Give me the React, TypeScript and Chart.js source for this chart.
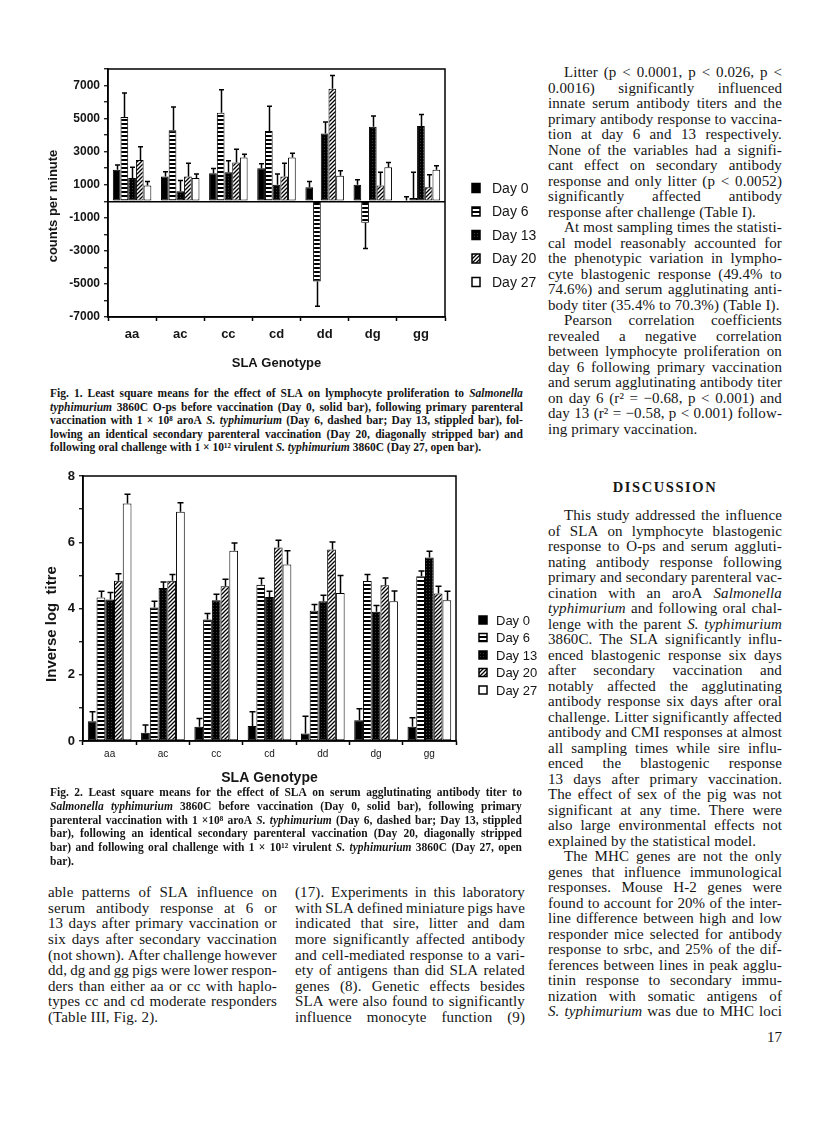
import React, { useEffect, useRef } from "react";
import { Chart, registerables } from "chart.js";
Chart.register(...registerables);

// ---------- data ----------
const genotypes = ["aa", "ac", "cc", "cd", "dd", "dg", "gg"];
const dayLabels = ["Day 0", "Day 6", "Day 13", "Day 20", "Day 27"];

// Fig. 1: lymphocyte proliferation, counts per minute
const cpmDay0 = [1900, 1500, 1700, 2000, 850, 1000, 50];
const cpmDay6 = [5100, 4300, 5350, 4250, -4850, -1300, 200];
const cpmDay13 = [1400, 600, 1750, 1000, 4100, 4500, 4550];
const cpmDay20 = [2500, 1500, 2350, 1500, 6800, 950, 850];
const cpmDay27 = [950, 1400, 2650, 2650, 1550, 2050, 1900];
const cpmErr0 = [300, 280, 280, 270, 350, 300, 220];
const cpmErr6 = [1450, 1400, 1400, 1500, 1500, 1550, 1550];
const cpmErr13 = [650, 650, 700, 650, 700, 650, 700];
const cpmErr20 = [800, 800, 800, 800, 800, 800, 750];
const cpmErr27 = [250, 250, 200, 250, 300, 300, 250];
const cpmTickLabels = [-7000, -5000, -3000, -1000, 1000, 3000, 5000, 7000];

// Fig. 2: serum agglutinating antibody, inverse log titre
const titreDay0 = [0.6, 0.25, 0.43, 0.45, 0.23, 0.63, 0.43];
const titreDay6 = [4.33, 4.03, 3.67, 4.72, 3.93, 4.83, 4.97];
const titreDay13 = [4.27, 4.62, 4.25, 4.35, 4.22, 3.9, 5.54];
const titreDay20 = [4.84, 4.84, 4.67, 5.84, 5.78, 4.7, 4.45];
const titreDay27 = [7.17, 6.92, 5.74, 5.33, 4.47, 4.22, 4.25];
const titreErr0 = [0.28, 0.23, 0.25, 0.43, 0.52, 0.34, 0.27];
const titreErr6 = [0.19, 0.19, 0.18, 0.19, 0.19, 0.2, 0.16];
const titreErr13 = [0.21, 0.18, 0.18, 0.17, 0.18, 0.19, 0.19];
const titreErr20 = [0.21, 0.19, 0.21, 0.22, 0.23, 0.22, 0.22];
const titreErr27 = [0.28, 0.27, 0.24, 0.41, 0.53, 0.31, 0.27];
const titreTickLabels = [0, 2, 4, 6, 8];

// ---------- text ----------
const fig1Caption = [
  "Fig. 1. Least square means for the effect of SLA on lymphocyte proliferation to _Salmonella_",
  "_typhimurium_ 3860C O-ps before vaccination (Day 0, solid bar), following primary parenteral",
  "vaccination with 1 × 10⁸ aroA _S. typhimurium_ (Day 6, dashed bar; Day 13, stippled bar), fol-",
  "lowing an identical secondary parenteral vaccination (Day 20, diagonally stripped bar) and",
  "following oral challenge with 1 × 10¹² virulent _S. typhimurium_ 3860C (Day 27, open bar).|",
];
const fig2Caption = [
  "Fig. 2. Least square means for the effect of SLA on serum agglutinating antibody titer to",
  "_Salmonella typhimurium_ 3860C before vaccination (Day 0, solid bar), following primary",
  "parenteral vaccination with 1 ×10⁸ aroA _S. typhimurium_ (Day 6, dashed bar; Day 13, stippled",
  "bar), following an identical secondary parenteral vaccination (Day 20, diagonally stripped",
  "bar) and following oral challenge with 1 × 10¹² virulent _S. typhimurium_ 3860C (Day 27, open",
  "bar).|",
];
const rightTop = [
  ">Litter (p < 0.0001, p < 0.026, p <",
  "0.0016) significantly influenced",
  "innate serum antibody titers and the",
  "primary antibody response to vaccina-",
  "tion at day 6 and 13 respectively.",
  "None of the variables had a signifi-",
  "cant effect on secondary antibody",
  "response and only litter (p < 0.0052)",
  "significantly affected antibody",
  "response after challenge (Table I).|",
  ">At most sampling times the statisti-",
  "cal model reasonably accounted for",
  "the phenotypic variation in lympho-",
  "cyte blastogenic response (49.4% to",
  "74.6%) and serum agglutinating anti-",
  "body titer (35.4% to 70.3%) (Table I).|",
  ">Pearson correlation coefficients",
  "revealed a negative correlation",
  "between lymphocyte proliferation on",
  "day 6 following primary vaccination",
  "and serum agglutinating antibody titer",
  "on day 6 (r² = −0.68, p < 0.001) and",
  "day 13 (r² = −0.58, p < 0.001) follow-",
  "ing primary vaccination.|",
];
const rightBottom = [
  ">This study addressed the influence",
  "of SLA on lymphocyte blastogenic",
  "response to O-ps and serum aggluti-",
  "nating antibody response following",
  "primary and secondary parenteral vac-",
  "cination with an aroA _Salmonella_",
  "_typhimurium_ and following oral chal-",
  "lenge with the parent _S. typhimurium_",
  "3860C. The SLA significantly influ-",
  "enced blastogenic response six days",
  "after secondary vaccination and",
  "notably affected the agglutinating",
  "antibody response six days after oral",
  "challenge. Litter significantly affected",
  "antibody and CMI responses at almost",
  "all sampling times while sire influ-",
  "enced the blastogenic response",
  "13 days after primary vaccination.",
  "The effect of sex of the pig was not",
  "significant at any time. There were",
  "also large environmental effects not",
  "explained by the statistical model.|",
  ">The MHC genes are not the only",
  "genes that influence immunological",
  "responses. Mouse H-2 genes were",
  "found to account for 20% of the inter-",
  "line difference between high and low",
  "responder mice selected for antibody",
  "response to srbc, and 25% of the dif-",
  "ferences between lines in peak agglu-",
  "tinin response to secondary immu-",
  "nization with somatic antigens of",
  "_S. typhimurium_ was due to MHC loci",
];
const leftBottom = [
  "able patterns of SLA influence on",
  "serum antibody response at 6 or",
  "13 days after primary vaccination or",
  "six days after secondary vaccination",
  "(not shown). After challenge however",
  "dd, dg and gg pigs were lower respon-",
  "ders than either aa or cc with haplo-",
  "types cc and cd moderate responders",
  "(Table III, Fig. 2).|",
];
const midBottom = [
  "(17). Experiments in this laboratory",
  "with SLA defined miniature pigs have",
  "indicated that sire, litter and dam",
  "more significantly affected antibody",
  "and cell-mediated response to a vari-",
  "ety of antigens than did SLA related",
  "genes (8). Genetic effects besides",
  "SLA were also found to significantly",
  "influence monocyte function (9)",
];

// ---------- patterns ----------
function makeFills(): (string | CanvasPattern)[] {
  const mk = (w: number, h: number, draw: (c: CanvasRenderingContext2D) => void) => {
    const cv = document.createElement("canvas");
    cv.width = w;
    cv.height = h;
    const c = cv.getContext("2d")!;
    draw(c);
    return c.createPattern(cv, "repeat")!;
  };
  const stripes = mk(4, 4, (c) => {
    c.fillStyle = "#fff";
    c.fillRect(0, 0, 4, 4);
    c.fillStyle = "#000";
    c.fillRect(0, 0, 4, 2);
  });
  const stipple = mk(3, 3, (c) => {
    c.fillStyle = "#000";
    c.fillRect(0, 0, 3, 3);
    c.fillStyle = "#3a3a3a";
    c.fillRect(1, 1, 1, 1);
  });
  const diag = mk(4, 4, (c) => {
    c.fillStyle = "#fff";
    c.fillRect(0, 0, 4, 4);
    c.strokeStyle = "#000";
    c.lineWidth = 1.3;
    c.beginPath();
    c.moveTo(-1, 5);
    c.lineTo(5, -1);
    c.moveTo(-1, 1);
    c.lineTo(1, -1);
    c.moveTo(3, 5);
    c.lineTo(5, 3);
    c.stroke();
  });
  return ["#000", stripes, stipple, diag, "#fff"];
}

type Cfg = {
  values: number[][];
  errors: number[][];
  min: number;
  max: number;
  step: number;
  tickLabels: number[];
  zeroLine: boolean;
  yWidth: number;
  xHeight: number;
  padTop: number;
  padRight: number;
  yTickFont: number;
  xTickFont: number;
  xTickBold: boolean;
  xTickPad: number;
  xTitleFont: number;
  xTitlePadBottom: number;
  yTitle: string;
  yTitleFont: number;
  yTitleX: number;
  yTitleY: number;
  legendBoxX: number;
  legendTextX: number;
  legendY0: number;
  legendDy: number;
  legendFont: number;
  legendBox: [number, number];
  catPct: number;
  cap: number;
};

const INK = "#151515";
const SANS = '"Liberation Sans", Arial, sans-serif';

function makePlugin(cfg: Cfg) {
  return {
    id: "paper",
    afterDatasetsDraw(chart: any) {
      const ctx = chart.ctx;
      const ys = chart.scales.y;
      ctx.save();
      ctx.strokeStyle = "#000";
      ctx.lineWidth = 1.5;
      cfg.errors.forEach((errs, di) => {
        const meta = chart.getDatasetMeta(di);
        meta.data.forEach((bar: any, j: number) => {
          const v = cfg.values[di][j];
          const end = v + (v < 0 ? -errs[j] : errs[j]);
          const y1 = ys.getPixelForValue(end);
          const x = Math.round(bar.x) + 0.5;
          ctx.beginPath();
          ctx.moveTo(x, bar.y);
          ctx.lineTo(x, y1);
          ctx.moveTo(x - cfg.cap, y1);
          ctx.lineTo(x + cfg.cap, y1);
          ctx.stroke();
        });
      });
      ctx.restore();
    },
    afterDraw(chart: any) {
      const ctx = chart.ctx;
      const a = chart.chartArea;
      ctx.save();
      ctx.strokeStyle = "#000";
      ctx.lineWidth = 1.5;
      ctx.strokeRect(a.left, a.top, a.right - a.left, a.bottom - a.top);
      ctx.fillStyle = INK;
      ctx.font = `bold ${cfg.yTitleFont}px ${SANS}`;
      ctx.textAlign = "center";
      ctx.textBaseline = "middle";
      ctx.translate(cfg.yTitleX, cfg.yTitleY);
      ctx.rotate(-Math.PI / 2);
      ctx.fillText(cfg.yTitle, 0, 0);
      ctx.setTransform(1, 0, 0, 1, 0, 0);
      ctx.textAlign = "left";
      ctx.font = `${cfg.legendFont}px ${SANS}`;
      chart.data.datasets.forEach((ds: any, k: number) => {
        const cy = cfg.legendY0 + k * cfg.legendDy;
        const [bw, bh] = cfg.legendBox;
        ctx.fillStyle = ds.backgroundColor;
        ctx.fillRect(cfg.legendBoxX, cy - bh / 2, bw, bh);
        ctx.lineWidth = 1.5;
        ctx.strokeStyle = "#000";
        ctx.strokeRect(cfg.legendBoxX, cy - bh / 2, bw, bh);
        ctx.fillStyle = INK;
        ctx.fillText(ds.label, cfg.legendTextX, cy + 1);
      });
      ctx.restore();
    },
  };
}

function BarChart({ cfg, left, top, width, height }: { cfg: Cfg; left: number; top: number; width: number; height: number }) {
  const ref = useRef<HTMLCanvasElement>(null);
  useEffect(() => {
    const fills = makeFills();
    const chart = new Chart(ref.current!, {
      type: "bar",
      data: {
        labels: genotypes,
        datasets: cfg.values.map((vals, i) => ({
          label: dayLabels[i],
          data: vals,
          backgroundColor: fills[i] as any,
          borderColor: "#000",
          borderWidth: 1,
          borderSkipped: false,
          barPercentage: 1,
          categoryPercentage: cfg.catPct,
        })),
      },
      options: {
        responsive: false,
        animation: false,
        devicePixelRatio: 1,
        layout: { padding: { top: cfg.padTop, right: cfg.padRight, left: 0, bottom: 0 } },
        plugins: { legend: { display: false }, tooltip: { enabled: false }, title: { display: false } },
        scales: {
          x: {
            grid: { display: true, drawOnChartArea: false, drawTicks: true, tickLength: 4, tickColor: "#000", tickWidth: 1.5, offset: true },
            border: { display: true, color: "#000", width: 1.5 },
            ticks: {
              color: INK,
              padding: cfg.xTickPad,
              font: { family: SANS, size: cfg.xTickFont, weight: cfg.xTickBold ? "bold" : "normal" },
            },
            title: {
              display: true,
              text: "SLA Genotype",
              color: INK,
              font: { family: SANS, size: cfg.xTitleFont, weight: "bold" },
              padding: { top: 0, bottom: cfg.xTitlePadBottom },
            },
            afterFit: (s: any) => {
              s.height = cfg.xHeight;
            },
          },
          y: {
            min: cfg.min,
            max: cfg.max,
            grid: {
              drawOnChartArea: cfg.zeroLine,
              color: (c: any) => (c.tick && c.tick.value === 0 ? "#000" : "rgba(0,0,0,0)"),
              lineWidth: 1.5,
              tickLength: 4,
              tickColor: "#000",
              tickWidth: 1.2,
            },
            border: { display: true, color: "#000", width: 1.5 },
            ticks: {
              stepSize: cfg.step,
              autoSkip: false,
              color: INK,
              padding: 4,
              font: { family: SANS, size: cfg.yTickFont, weight: "bold" },
              callback: (v: any) => (cfg.tickLabels.includes(Number(v)) ? String(v) : ""),
            },
            afterFit: (s: any) => {
              s.width = cfg.yWidth;
            },
          },
        },
      },
      plugins: [makePlugin(cfg) as any],
    });
    return () => chart.destroy();
  }, []);
  return <canvas ref={ref} width={width} height={height} style={{ position: "absolute", left, top, width, height }} />;
}

const cfg1: Cfg = {
  values: [cpmDay0, cpmDay6, cpmDay13, cpmDay20, cpmDay27],
  errors: [cpmErr0, cpmErr6, cpmErr13, cpmErr20, cpmErr27],
  min: -7000,
  max: 8000,
  step: 1000,
  tickLabels: cpmTickLabels,
  zeroLine: true,
  yWidth: 88,
  xHeight: 68,
  padTop: 14,
  padRight: 95,
  yTickFont: 12,
  xTickFont: 13,
  xTickBold: true,
  xTickPad: 6,
  xTitleFont: 13,
  xTitlePadBottom: 14,
  yTitle: "counts per minute",
  yTitleFont: 13,
  yTitleX: 33,
  yTitleY: 151,
  legendBoxX: 452,
  legendTextX: 472,
  legendY0: 133,
  legendDy: 23.5,
  legendFont: 14,
  legendBox: [8, 9],
  catPct: 0.8,
  cap: 2.5,
};

const cfg2: Cfg = {
  values: [titreDay0, titreDay6, titreDay13, titreDay20, titreDay27],
  errors: [titreErr0, titreErr6, titreErr13, titreErr20, titreErr27],
  min: 0,
  max: 8,
  step: 1,
  tickLabels: titreTickLabels,
  zeroLine: false,
  yWidth: 63,
  xHeight: 49,
  padTop: 16,
  padRight: 84,
  yTickFont: 13,
  xTickFont: 10,
  xTickBold: false,
  xTickPad: 3,
  xTitleFont: 14,
  xTitlePadBottom: 3,
  yTitle: "Inverse log  titre",
  yTitleFont: 15,
  yTitleX: 32,
  yTitleY: 164,
  legendBoxX: 459,
  legendTextX: 476,
  legendY0: 160,
  legendDy: 17.5,
  legendFont: 13,
  legendBox: [8, 8],
  catPct: 0.82,
  cap: 3,
};

type Seg = { t: string; it: boolean };
function parseWords(s: string): Seg[][] {
  const words: Seg[][] = [];
  let cur: Seg[] = [];
  s.split("_").forEach((part, k) => {
    const it = k % 2 === 1;
    const pieces = part.split(" ");
    pieces.forEach((p, pi) => {
      if (pi > 0) {
        if (cur.length) words.push(cur);
        cur = [];
      }
      if (p) cur.push({ t: p, it });
    });
  });
  if (cur.length) words.push(cur);
  return words;
}

function Lines({ x, y, w, lh, size, weight = 400, lines, indent = 16, spacing = 0 }: any) {
  return (
    <>
      {lines.map((raw: string, i: number) => {
        let s = raw;
        const ind = s.startsWith(">");
        if (ind) s = s.slice(1);
        const last = s.endsWith("|");
        if (last) s = s.slice(0, -1);
        const words = parseWords(s);
        const renderWord = (wd: Seg[], k: number) => (
          <span key={k}>
            {wd.map((sg, m) => (sg.it ? <i key={m}>{sg.t}</i> : <span key={m}>{sg.t}</span>))}
          </span>
        );
        return (
          <div
            key={i}
            style={{
              position: "absolute",
              left: x + (ind ? indent : 0),
              top: y - lh / 2 + i * lh,
              width: w - (ind ? indent : 0),
              height: lh,
              lineHeight: lh + "px",
              fontSize: size,
              fontWeight: weight,
              letterSpacing: spacing,
              whiteSpace: "nowrap",
              display: last ? "block" : "flex",
              justifyContent: "space-between",
            } as any}
          >
            {last
              ? words.map((wd, k) => (
                  <React.Fragment key={k}>
                    {k > 0 ? " " : ""}
                    {renderWord(wd, k)}
                  </React.Fragment>
                ))
              : words.map(renderWord)}
          </div>
        );
      })}
    </>
  );
}

export default function App() {
  return (
    <div
      style={{
        position: "absolute",
        left: 0,
        top: 0,
        width: 816,
        height: 1121,
        overflow: "hidden",
        background: "#fff",
        color: INK,
        fontFamily: '"Liberation Serif", "Times New Roman", serif',
      }}
    >
      <BarChart cfg={cfg1} left={20} top={55} width={520} height={330} />
      <BarChart cfg={cfg2} left={20} top={460} width={520} height={330} />
      <Lines x={50} y={394} w={473} lh={13.5} size={11.5} weight={700} lines={fig1Caption} />
      <Lines x={50} y={793} w={472} lh={13.75} size={11.5} weight={700} lines={fig2Caption} />
      <Lines x={548} y={73} w={234} lh={15.5} size={15} spacing={0.1} lines={rightTop} />
      <div
        style={{
          position: "absolute",
          left: 548,
          width: 234,
          top: 478,
          textAlign: "center",
          fontWeight: 700,
          fontSize: 14.5,
          letterSpacing: 1.6,
          lineHeight: "18px",
        }}
      >
        DISCUSSION
      </div>
      <Lines x={548} y={516} w={234} lh={15.5} size={15} spacing={0.1} lines={rightBottom} />
      <Lines x={48} y={893} w={229} lh={15.6} size={15} spacing={0.1} lines={leftBottom} />
      <Lines x={295} y={893} w={230} lh={15.6} size={15} spacing={0.1} lines={midBottom} />
      <div style={{ position: "absolute", left: 700, width: 82, top: 1028, textAlign: "right", fontSize: 15, lineHeight: "18px" }}>17</div>
    </div>
  );
}
